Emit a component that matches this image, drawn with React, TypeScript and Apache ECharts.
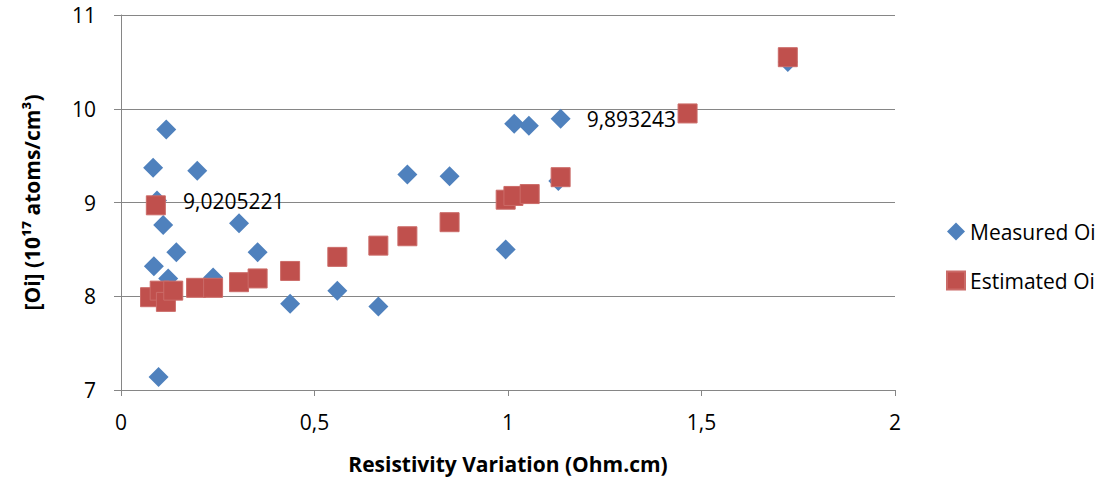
import React, { useEffect, useRef } from "react";
import * as echarts from "echarts";

const measuredX = [0.083, 0.093, 0.117, 0.109, 0.143, 0.085, 0.122, 0.097, 0.197, 0.238, 0.305, 0.353, 0.437, 0.559, 0.665, 0.74, 0.849, 0.994, 1.016, 1.054, 1.136, 1.13, 1.723];
const measuredY = [9.37, 9.0205221, 9.78, 8.76, 8.47, 8.32, 8.19, 7.14, 9.34, 8.2, 8.78, 8.47, 7.92, 8.06, 7.89, 9.3, 9.28, 8.5, 9.84, 9.82, 9.893243, 9.23, 10.5];
const labeledMeasured = [1, 20];

const estimatedX = [0.075, 0.09, 0.1, 0.116, 0.135, 0.194, 0.238, 0.305, 0.353, 0.437, 0.559, 0.665, 0.74, 0.849, 0.994, 1.014, 1.056, 1.136, 1.464, 1.723];
const estimatedY = [7.99, 8.97, 8.06, 7.94, 8.06, 8.09, 8.09, 8.15, 8.19, 8.27, 8.42, 8.54, 8.64, 8.79, 9.03, 9.07, 9.09, 9.27, 9.95, 10.55];

const xTicks = [0, 0.5, 1, 1.5, 2];
const yTicks = [7, 8, 9, 10, 11];

const FONT = "'Open Sans', 'Noto Sans', sans-serif";
const fmt = (v: number) => String(v).replace(".", ",");

export default function App() {
  const ref = useRef<HTMLDivElement>(null);
  useEffect(() => {
    if (!ref.current) return;
    const chart = echarts.init(ref.current, null, { renderer: "svg" });
    const measuredData = measuredX.map((x, i) => {
      const item: any = { value: [x, measuredY[i]] };
      if (labeledMeasured.includes(i)) {
        item.label = {
          show: true,
          position: "right",
          distance: 16,
          formatter: () => fmt(measuredY[i]),
          color: "#000",
          fontSize: 21,
          fontFamily: FONT,
        };
      }
      return item;
    });
    const estimatedData = estimatedX.map((x, i) => [x, estimatedY[i]]);
    chart.setOption({
      animation: false,
      backgroundColor: "#fff",
      textStyle: { fontFamily: FONT },
      grid: { left: 121, right: 210, top: 15, bottom: 90, containLabel: false },
      legend: {
        orient: "vertical",
        left: 941,
        top: 216,
        itemGap: 28,
        itemWidth: 18,
        itemHeight: 18,
        textStyle: { fontSize: 21, color: "#000", fontFamily: FONT },
        data: [
          { name: "Measured Oi", icon: "diamond" },
          { name: "Estimated Oi", icon: "rect" },
        ],
      },
      xAxis: {
        type: "value",
        min: xTicks[0],
        max: xTicks[xTicks.length - 1],
        interval: 0.5,
        name: "Resistivity Variation (Ohm.cm)",
        nameLocation: "middle",
        nameGap: 63,
        nameTextStyle: { fontSize: 21, fontWeight: "bold", color: "#000", fontFamily: FONT },
        axisLine: { show: true, lineStyle: { color: "#868686", width: 1 } },
        axisTick: { show: true, inside: false, length: 6, lineStyle: { color: "#868686" } },
        axisLabel: { fontSize: 21, color: "#000", margin: 21, formatter: (v: number) => fmt(v), fontFamily: FONT },
        splitLine: { show: false },
      },
      yAxis: {
        type: "value",
        min: yTicks[0],
        max: yTicks[yTicks.length - 1],
        interval: 1,
        name: "[Oi] (10¹⁷ atoms/cm³)",
        nameLocation: "middle",
        nameGap: 79,
        nameRotate: 90,
        nameTextStyle: { fontSize: 21, fontWeight: "bold", color: "#000", fontFamily: FONT },
        axisLine: { show: true, lineStyle: { color: "#868686", width: 1 } },
        axisTick: { show: true, inside: false, length: 7, lineStyle: { color: "#868686" } },
        axisLabel: { fontSize: 21, color: "#000", margin: 25, fontFamily: FONT },
        splitLine: { show: true, lineStyle: { color: "#868686", width: 1 } },
      },
      series: [
        {
          name: "Measured Oi",
          type: "scatter",
          symbol: "diamond",
          symbolSize: 20,
          itemStyle: { color: "#4F81BD", opacity: 1 },
          data: measuredData,
          z: 2,
        },
        {
          name: "Estimated Oi",
          type: "scatter",
          symbol: "rect",
          symbolSize: 19,
          itemStyle: { color: "#C0504D", opacity: 1, borderColor: "#CB6B68", borderWidth: 1 },
          data: estimatedData,
          z: 3,
        },
      ],
    });
    return () => chart.dispose();
  }, []);
  return <div ref={ref} style={{ position: "fixed", left: 0, top: 0, width: 1105, height: 480 }} />;
}
